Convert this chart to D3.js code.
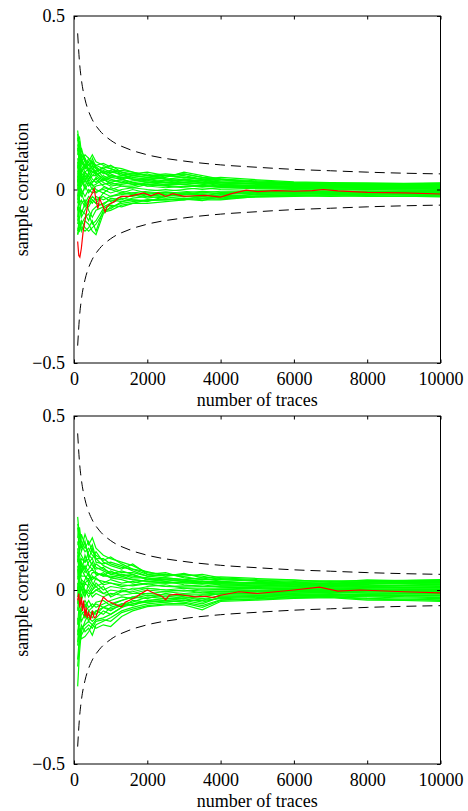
<!DOCTYPE html>
<html>
<head>
<meta charset="utf-8">
<script src="https://cdn.jsdelivr.net/npm/d3@7"></script>
<style>
  body { margin: 0; background: #fff; }
  svg { display: block; }
  text { font-family: "Liberation Serif", "Times New Roman", serif; fill: #000; }
</style>
</head>
<body>
<div id="chart"></div>
<script>
// number of traces at which each green trace was read
const traceCounts = [100,150,200,300,400,500,600,800,1000,1300,1600,2000,2500,3000,3500,4000,5000,6000,7000,8000,9000,10000];

// dashed bounds
const boundN = [100,150,200,300,400,500,700,1000,1500,2000,3000,4000,5000,6000,7000,8000,9000,10000];
const boundUpper = [0.45,0.367,0.318,0.26,0.225,0.201,0.17,0.142,0.116,0.1,0.082,0.071,0.064,0.058,0.054,0.05,0.047,0.045];
const boundLower = [-0.45,-0.367,-0.318,-0.26,-0.225,-0.201,-0.17,-0.142,-0.116,-0.1,-0.082,-0.071,-0.064,-0.058,-0.054,-0.05,-0.047,-0.045];

const xTicks = [0,2000,4000,6000,8000,10000];
const yTicks = [-0.5,0,0.5];

// top panel
const topGreen = [
  [0.17,0.12,0.09,0.06,0.08,0.10,0.08,0.07,0.06,0.05,0.045,0.05,0.04,0.045,0.035,0.03,0.025,0.02,0.018,0.015,0.017,0.015],
  [0.14,0.15,0.11,0.09,0.07,0.06,0.07,0.075,0.065,0.06,0.05,0.04,0.045,0.04,0.03,0.035,0.028,0.022,0.02,0.019,0.018,0.019],
  [0.10,0.13,0.08,0.10,0.09,0.07,0.06,0.05,0.055,0.04,0.035,0.03,0.035,0.05,0.04,0.03,0.02,0.015,0.016,0.014,0.012,0.013],
  [0.05,0.09,0.12,0.08,0.06,0.05,0.055,0.06,0.07,0.05,0.04,0.045,0.03,0.025,0.02,0.02,0.018,0.016,0.012,0.01,0.011,0.01],
  [0.08,0.03,0.06,0.04,0.03,0.04,0.05,0.03,0.04,0.035,0.03,0.02,0.025,0.03,0.025,0.015,0.012,0.01,0.008,0.009,0.007,0.008],
  [0.0,0.06,0.04,0.02,0.05,0.03,0.02,0.04,0.03,0.02,0.025,0.03,0.02,0.015,0.02,0.018,0.015,0.012,0.01,0.006,0.005,0.004],
  [-0.03,0.02,0.01,0.03,0.01,0.02,0.035,0.02,0.01,0.015,0.02,0.01,0.005,0.01,0.012,0.008,0.006,0.004,0.005,0.003,0.002,0.0],
  [0.12,0.07,0.03,0.0,0.02,0.0,0.01,0.015,0.02,0.01,0.005,0.015,0.01,0.005,0.0,0.005,0.002,0.0,-0.002,0.0,-0.002,-0.003],
  [-0.08,-0.02,0.0,-0.02,0.0,-0.01,-0.005,0.0,-0.01,0.0,0.005,0.0,-0.005,0.0,0.005,0.0,-0.003,-0.004,-0.005,-0.006,-0.004,-0.005],
  [0.03,-0.04,-0.03,-0.05,-0.03,-0.04,-0.02,-0.03,-0.02,-0.015,-0.01,-0.02,-0.01,-0.015,-0.01,-0.012,-0.008,-0.008,-0.009,-0.01,-0.008,-0.008],
  [-0.12,-0.08,-0.06,-0.07,-0.09,-0.06,-0.05,-0.04,-0.03,-0.035,-0.025,-0.02,-0.025,-0.02,-0.025,-0.02,-0.015,-0.012,-0.012,-0.013,-0.012,-0.012],
  [-0.05,-0.10,-0.12,-0.09,-0.10,-0.12,-0.13,-0.07,-0.05,-0.04,-0.035,-0.03,-0.03,-0.025,-0.03,-0.03,-0.02,-0.016,-0.015,-0.015,-0.016,-0.018],
  [-0.13,-0.11,-0.09,-0.11,-0.12,-0.11,-0.10,-0.065,-0.06,-0.045,-0.04,-0.04,-0.035,-0.03,-0.02,-0.025,-0.022,-0.02,-0.018,-0.02,-0.019,-0.021],
  [0.06,0.10,0.07,0.05,0.04,0.06,0.04,0.055,0.045,0.03,0.04,0.035,0.03,0.02,0.025,0.022,0.015,0.013,0.014,0.012,0.014,0.016],
  [-0.02,0.04,0.08,0.06,0.07,0.08,0.06,0.035,0.025,0.025,0.015,0.02,0.015,0.02,0.015,0.01,0.008,0.006,0.004,0.005,0.006,0.006],
  [0.09,0.05,0.02,0.04,0.02,0.015,0.0,-0.01,0.005,-0.005,-0.01,-0.005,0.0,-0.005,-0.01,-0.005,-0.005,-0.002,0.0,0.002,0.001,0.002],
  [-0.10,-0.06,-0.04,-0.03,-0.06,-0.08,-0.06,-0.05,-0.04,-0.025,-0.03,-0.035,-0.02,-0.01,-0.015,-0.025,-0.012,-0.014,-0.01,-0.008,-0.01,-0.012],
  [0.15,0.08,0.05,0.07,0.05,0.09,0.065,0.045,0.05,0.045,0.03,0.025,0.04,0.035,0.03,0.025,0.022,0.018,0.015,0.016,0.015,0.017],
  [-0.06,-0.03,-0.08,-0.06,-0.04,-0.02,-0.03,-0.02,-0.035,-0.02,-0.02,-0.01,-0.015,-0.02,-0.02,-0.01,-0.01,-0.006,-0.005,-0.004,-0.006,-0.006],
  [0.04,0.0,0.05,0.03,0.04,0.02,0.03,0.01,0.0,0.01,0.01,0.02,0.02,0.03,0.02,0.015,0.01,0.008,0.007,0.006,0.008,0.007],
  [0.16,0.11,0.10,0.08,0.07,0.08,0.07,0.06,0.05,0.055,0.05,0.04,0.04,0.035,0.03,0.028,0.02,0.017,0.016,0.017,0.016,0.018],
  [0.11,0.14,0.09,0.07,0.08,0.06,0.05,0.065,0.06,0.045,0.04,0.035,0.04,0.045,0.035,0.03,0.022,0.019,0.017,0.015,0.016,0.014],
  [0.07,0.05,0.10,0.09,0.05,0.07,0.045,0.05,0.035,0.04,0.045,0.04,0.03,0.035,0.03,0.02,0.016,0.014,0.013,0.011,0.012,0.012],
  [0.02,0.08,0.03,0.05,0.06,0.04,0.04,0.025,0.035,0.03,0.02,0.025,0.02,0.02,0.018,0.012,0.01,0.009,0.009,0.008,0.009,0.009],
  [-0.04,0.01,0.03,0.01,0.03,0.01,0.015,0.03,0.015,0.02,0.015,0.015,0.012,0.008,0.01,0.006,0.004,0.003,0.002,0.001,0.003,0.002],
  [0.05,-0.01,-0.02,0.01,-0.01,0.005,-0.01,0.005,0.0,-0.01,0.0,-0.01,-0.008,-0.01,-0.005,-0.008,-0.006,-0.006,-0.007,-0.005,-0.005,-0.004],
  [-0.09,-0.05,-0.07,-0.04,-0.05,-0.03,-0.04,-0.045,-0.025,-0.03,-0.015,-0.025,-0.018,-0.012,-0.018,-0.015,-0.01,-0.01,-0.011,-0.009,-0.01,-0.01],
  [-0.11,-0.12,-0.10,-0.08,-0.07,-0.10,-0.09,-0.055,-0.045,-0.05,-0.04,-0.03,-0.028,-0.03,-0.025,-0.028,-0.018,-0.017,-0.016,-0.017,-0.014,-0.016],
  [-0.13,-0.09,-0.11,-0.12,-0.11,-0.09,-0.12,-0.06,-0.055,-0.035,-0.03,-0.032,-0.03,-0.028,-0.032,-0.02,-0.02,-0.018,-0.02,-0.018,-0.02,-0.019],
  [0.13,0.10,0.08,0.065,0.09,0.075,0.065,0.05,0.04,0.035,0.03,0.03,0.025,0.025,0.028,0.02,0.018,0.015,0.012,0.013,0.013,0.011],
  [0.01,0.03,-0.01,-0.04,-0.02,-0.03,-0.04,-0.01,-0.02,-0.01,-0.015,-0.015,-0.02,-0.015,-0.015,-0.018,-0.015,-0.011,-0.013,-0.012,-0.013,-0.014],
  [-0.06,-0.01,0.02,0.05,0.03,0.05,0.045,0.03,0.02,0.03,0.02,0.01,0.015,0.015,0.01,0.01,0.005,0.006,0.005,0.004,0.004,0.005]
];
const topRedN = [100,130,160,200,250,300,350,400,450,500,550,600,650,700,750,800,850,900,1000,1100,1200,1300,1500,1700,1900,2100,2300,2500,2700,3000,3300,3600,4000,4300,4700,5000,5500,6000,6500,6800,7200,8000,9000,10000];
const topRed = [-0.15,-0.19,-0.195,-0.17,-0.12,-0.09,-0.06,-0.03,-0.02,-0.01,0.002,-0.03,-0.055,-0.025,-0.04,-0.05,-0.065,-0.05,-0.04,-0.035,-0.025,-0.02,-0.02,-0.015,-0.01,-0.018,-0.01,-0.02,-0.012,-0.02,-0.018,-0.017,-0.022,-0.012,-0.002,-0.006,-0.003,-0.005,-0.003,0.0,-0.004,-0.008,-0.01,-0.013];

// bottom panel
const bottomGreen = [
  [0.21,0.15,0.12,0.16,0.13,0.15,0.12,0.10,0.09,0.08,0.07,0.05,0.045,0.04,0.045,0.035,0.03,0.028,0.025,0.027,0.028,0.03],
  [0.15,0.18,0.14,0.12,0.14,0.11,0.10,0.085,0.095,0.075,0.06,0.053,0.04,0.048,0.035,0.038,0.033,0.029,0.022,0.029,0.026,0.027],
  [0.08,0.12,0.16,0.13,0.10,0.09,0.11,0.08,0.07,0.06,0.075,0.045,0.05,0.035,0.03,0.03,0.025,0.02,0.018,0.02,0.022,0.022],
  [0.12,0.06,0.09,0.08,0.11,0.13,0.09,0.07,0.06,0.05,0.05,0.04,0.035,0.03,0.035,0.025,0.02,0.016,0.015,0.016,0.018,0.018],
  [0.03,0.09,0.05,0.10,0.07,0.06,0.075,0.06,0.05,0.045,0.04,0.035,0.03,0.025,0.02,0.022,0.018,0.012,0.014,0.012,0.013,0.014],
  [0.18,0.10,0.07,0.05,0.06,0.08,0.05,0.04,0.055,0.04,0.03,0.025,0.02,0.022,0.025,0.015,0.012,0.01,0.012,0.01,0.009,0.01],
  [-0.02,0.04,0.08,0.06,0.04,0.03,0.04,0.05,0.035,0.03,0.02,0.03,0.025,0.015,0.01,0.012,0.01,0.008,0.006,0.007,0.006,0.006],
  [0.06,0.02,0.0,0.03,0.05,0.02,0.01,0.02,0.03,0.02,0.025,0.015,0.01,0.012,0.015,0.008,0.005,0.004,0.006,0.003,0.002,0.002],
  [-0.10,-0.03,0.02,0.0,-0.02,0.0,0.02,0.0,0.01,0.005,0.0,0.01,0.015,0.005,0.0,0.002,0.0,0.002,0.0,-0.001,-0.002,-0.002],
  [0.10,0.05,0.03,-0.01,0.0,-0.02,-0.01,-0.02,-0.01,-0.015,-0.01,0.0,-0.005,-0.01,-0.005,-0.004,-0.005,-0.004,-0.003,-0.005,-0.006,-0.006],
  [-0.15,-0.08,-0.05,-0.03,-0.05,-0.04,-0.05,-0.04,-0.03,-0.02,-0.025,-0.015,-0.02,-0.015,-0.02,-0.01,-0.01,-0.008,-0.007,-0.009,-0.01,-0.01],
  [-0.277,-0.18,-0.12,-0.09,-0.07,-0.08,-0.06,-0.07,-0.05,-0.04,-0.045,-0.03,-0.025,-0.02,-0.03,-0.015,-0.015,-0.012,-0.012,-0.013,-0.014,-0.014],
  [-0.20,-0.13,-0.10,-0.12,-0.11,-0.13,-0.10,-0.09,-0.08,-0.06,-0.05,-0.04,-0.035,-0.03,-0.04,-0.02,-0.02,-0.016,-0.016,-0.018,-0.018,-0.018],
  [-0.08,-0.12,-0.14,-0.134,-0.12,-0.10,-0.11,-0.10,-0.105,-0.076,-0.06,-0.048,-0.043,-0.043,-0.057,-0.033,-0.029,-0.024,-0.022,-0.029,-0.03,-0.033],
  [-0.05,-0.06,-0.09,-0.07,-0.08,-0.09,-0.08,-0.06,-0.07,-0.05,-0.03,-0.035,-0.03,-0.035,-0.045,-0.028,-0.025,-0.02,-0.019,-0.024,-0.026,-0.028],
  [0.02,-0.02,-0.04,-0.05,-0.03,-0.05,-0.035,-0.03,-0.045,-0.03,-0.02,-0.025,-0.01,-0.02,-0.025,-0.018,-0.016,-0.013,-0.01,-0.015,-0.02,-0.022],
  [0.14,0.11,0.10,0.08,0.09,0.07,0.06,0.065,0.045,0.055,0.045,0.03,0.035,0.03,0.02,0.02,0.022,0.02,0.02,0.022,0.023,0.024],
  [-0.04,0.0,-0.02,0.02,0.01,-0.01,0.0,0.01,-0.02,-0.005,0.005,0.005,0.0,0.005,0.005,0.005,0.004,0.0,0.002,0.002,0.003,0.003],
  [0.0,0.07,0.04,0.04,0.02,0.04,0.03,0.025,0.02,0.01,0.015,0.02,0.02,0.025,0.02,0.015,0.015,0.014,0.01,0.012,0.015,0.016],
  [-0.12,-0.10,-0.07,-0.06,-0.09,-0.06,-0.07,-0.05,-0.06,-0.04,-0.035,-0.02,-0.025,-0.025,-0.015,-0.012,-0.012,-0.01,-0.013,-0.012,-0.011,-0.011],
  [0.19,0.16,0.13,0.11,0.12,0.10,0.09,0.09,0.075,0.065,0.06,0.045,0.04,0.045,0.04,0.03,0.028,0.025,0.026,0.025,0.027,0.028],
  [0.13,0.14,0.11,0.14,0.09,0.12,0.08,0.075,0.08,0.07,0.055,0.04,0.045,0.038,0.03,0.033,0.027,0.022,0.02,0.024,0.024,0.025],
  [0.09,0.05,0.07,0.06,0.08,0.09,0.065,0.055,0.045,0.04,0.045,0.03,0.03,0.028,0.025,0.02,0.02,0.018,0.016,0.018,0.019,0.02],
  [0.04,0.03,0.06,0.04,0.03,0.05,0.05,0.04,0.04,0.035,0.03,0.025,0.022,0.02,0.018,0.018,0.014,0.011,0.012,0.011,0.012,0.012],
  [-0.06,0.01,0.03,0.02,0.03,0.01,0.035,0.015,0.02,0.015,0.012,0.018,0.01,0.008,0.01,0.009,0.007,0.006,0.005,0.006,0.007,0.007],
  [0.07,0.0,-0.03,0.0,-0.01,-0.01,0.0,-0.01,0.0,-0.005,-0.005,0.005,0.0,-0.003,0.0,0.0,-0.002,-0.002,-0.001,0.0,-0.001,-0.001],
  [-0.13,-0.06,-0.06,-0.04,-0.06,-0.05,-0.04,-0.05,-0.04,-0.03,-0.02,-0.01,-0.015,-0.012,-0.012,-0.008,-0.008,-0.006,-0.006,-0.008,-0.008,-0.009],
  [-0.22,-0.15,-0.11,-0.10,-0.09,-0.10,-0.085,-0.08,-0.07,-0.05,-0.04,-0.035,-0.03,-0.025,-0.035,-0.022,-0.018,-0.014,-0.014,-0.016,-0.016,-0.016],
  [-0.16,-0.11,-0.13,-0.11,-0.10,-0.11,-0.09,-0.085,-0.09,-0.065,-0.055,-0.045,-0.04,-0.038,-0.05,-0.03,-0.026,-0.022,-0.02,-0.026,-0.028,-0.03],
  [-0.03,-0.05,-0.06,-0.08,-0.06,-0.07,-0.06,-0.05,-0.055,-0.045,-0.04,-0.03,-0.035,-0.03,-0.03,-0.025,-0.022,-0.018,-0.017,-0.02,-0.023,-0.025],
  [0.11,0.08,0.05,0.07,0.05,0.06,0.045,0.045,0.035,0.045,0.035,0.035,0.025,0.03,0.025,0.025,0.018,0.016,0.018,0.02,0.02,0.021],
  [0.01,-0.04,0.01,-0.02,0.02,0.0,0.01,-0.01,-0.015,0.0,-0.01,-0.01,-0.005,0.0,-0.008,-0.005,-0.004,-0.003,-0.004,-0.003,-0.004,-0.004]
];
const bottomRedN = [100,130,160,200,230,260,300,330,360,400,450,500,550,600,650,700,800,900,1000,1100,1200,1300,1400,1500,1600,1700,1800,2000,2200,2400,2500,2600,2800,3000,3300,3600,3800,4000,4500,5000,5500,6000,6700,7200,7800,9000,10000];
const bottomRed = [-0.03,-0.01,-0.05,-0.02,-0.06,-0.03,-0.075,-0.05,-0.08,-0.065,-0.085,-0.06,-0.08,-0.077,-0.06,-0.045,-0.02,-0.03,-0.035,-0.04,-0.045,-0.048,-0.035,-0.03,-0.025,-0.02,-0.012,0.0,-0.01,-0.018,-0.028,-0.015,-0.012,-0.015,-0.02,-0.018,-0.022,-0.015,-0.005,-0.01,-0.005,0.0,0.008,-0.003,0.0,-0.005,-0.008];

const W = 468, H = 811;
const svg = d3.select("#chart").append("svg").attr("width", W).attr("height", H);

const x = d3.scaleLinear().domain([0, 10000]).range([74, 440.5]);

function drawPanel(top, bottom, green, redN, red, id) {
    const y = d3.scaleLinear().domain([-0.5, 0.5]).range([bottom, top]);
    const g = svg.append("g");

    g.append("clipPath").attr("id", id)
        .append("rect")
        .attr("x", x(0)).attr("y", top)
        .attr("width", x(10000) - x(0)).attr("height", bottom - top);

    const plot = g.append("g").attr("clip-path", `url(#${id})`);

    const line = d3.line().x(d => x(d[0])).y(d => y(d[1]));

    plot.selectAll(".green")
        .data(green)
        .join("path")
        .attr("class", "green")
        .attr("d", t => line(traceCounts.map((n, i) => [n, t[i]]).filter(d => d[1] !== undefined)))
        .attr("fill", "none")
        .attr("stroke", "#00ff00")
        .attr("stroke-width", 1.2);

    plot.append("path")
        .attr("d", line(redN.map((n, i) => [n, red[i]])))
        .attr("fill", "none")
        .attr("stroke", "#ff0000")
        .attr("stroke-width", 1.2);

    const bound = d3.line().x(d => x(d[0])).y(d => y(d[1])).curve(d3.curveMonotoneX);
    [boundUpper, boundLower].forEach(b => {
        plot.append("path")
            .attr("d", bound(boundN.map((n, i) => [n, b[i]])))
            .attr("fill", "none")
            .attr("stroke", "#000")
            .attr("stroke-width", 1)
            .attr("stroke-dasharray", "10,6");
    });

    // axes box with inward ticks
    g.append("g")
        .attr("transform", `translate(0,${bottom})`)
        .call(d3.axisBottom(x).tickValues(xTicks).tickSizeInner(-3.5).tickSizeOuter(0).tickPadding(9).tickFormat(d3.format("d")))
        .call(a => a.select(".domain").remove())
        .call(a => a.selectAll("text").attr("font-size", 18).attr("font-family", "Liberation Serif"));
    g.append("g")
        .attr("transform", `translate(0,${top})`)
        .call(d3.axisTop(x).tickValues(xTicks).tickSizeInner(-3.5).tickSizeOuter(0).tickFormat(""))
        .call(a => a.select(".domain").remove());
    g.append("g")
        .attr("transform", `translate(${x(0)},0)`)
        .call(d3.axisLeft(y).tickValues(yTicks).tickSizeInner(-3.5).tickSizeOuter(0).tickPadding(9)
            .tickFormat(d => d === 0 ? "0" : (d < 0 ? "\u2212" : "") + Math.abs(d)))
        .call(a => a.select(".domain").remove())
        .call(a => a.selectAll("text").attr("font-size", 18).attr("font-family", "Liberation Serif"));
    g.append("g")
        .attr("transform", `translate(${x(10000)},0)`)
        .call(d3.axisRight(y).tickValues(yTicks).tickSizeInner(-3.5).tickSizeOuter(0).tickFormat(""))
        .call(a => a.select(".domain").remove());

    g.append("rect")
        .attr("x", x(0)).attr("y", top)
        .attr("width", x(10000) - x(0)).attr("height", bottom - top)
        .attr("fill", "none").attr("stroke", "#000").attr("stroke-width", 1);

    g.append("text")
        .attr("x", (x(0) + x(10000)) / 2)
        .attr("y", bottom + 43)
        .attr("text-anchor", "middle")
        .attr("font-size", 18)
        .text("number of traces");

    g.append("text")
        .attr("transform", `translate(28,${(top + bottom) / 2}) rotate(-90)`)
        .attr("text-anchor", "middle")
        .attr("font-size", 18)
        .text("sample correlation");
}

drawPanel(16, 363, topGreen, topRedN, topRed, "clipTop");
drawPanel(416, 764, bottomGreen, bottomRedN, bottomRed, "clipBottom");
</script>
</body>
</html>
